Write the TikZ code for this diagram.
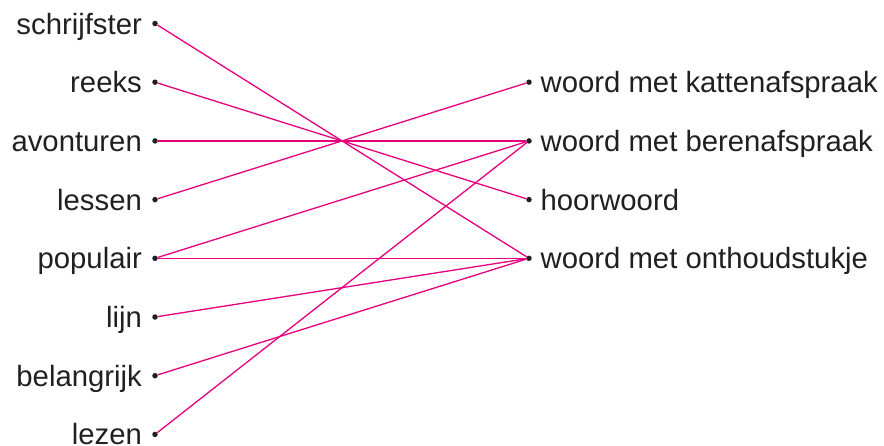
\documentclass[tikz,border=0pt]{standalone}
\usepackage{fontspec}
\setmainfont{Liberation Sans}
\usetikzlibrary{positioning}
\definecolor{linkMagenta}{HTML}{E6007E}
\definecolor{wordInk}{HTML}{231F20}

\begin{document}
\begin{tikzpicture}[x=1pt, y=-1pt,
  dot/.style={circle, fill=wordInk, inner sep=0pt, minimum size=5.5pt},
  word/.style={text=wordInk, inner sep=0pt, font=\fontsize{29.3}{30}\selectfont},
  link/.style={linkMagenta, line width=1.3pt}
]
  \useasboundingbox (0,0) rectangle (884,445);

  % left column
  \foreach \w [count=\i from 0] in {schrijfster, reeks, avonturen, lessen,
      populair, lijn, belangrijk, lezen} {
    \node[dot] (\w) at (155, 23.5+58.7*\i) {};
    \node[word, left=10pt of \w, anchor=base east, yshift=-10.5pt] (\w-txt) {\w};
  }

  % right column
  \foreach \n/\t [count=\i from 1] in {kat/woord met kattenafspraak,
      beer/woord met berenafspraak, hoor/hoorwoord,
      onthoud/woord met onthoudstukje} {
    \node[dot] (\n) at (529, 23.5+58.7*\i) {};
    \node[word, right=8.5pt of \n, anchor=base west, yshift=-10.5pt] (\n-txt) {\t};
  }

  \draw[link] (schrijfster) -- (onthoud);
  \draw[link] (reeks) -- (hoor);
  \draw[link] (avonturen) -- (beer);
  \draw[link] (lessen) -- (kat);
  \draw[link] (populair) -- (beer);
  \draw[link] (populair) -- (onthoud);
  \draw[link] (lijn) -- (onthoud);
  \draw[link] (belangrijk) -- (onthoud);
  \draw[link] (lezen) -- (beer);
\end{tikzpicture}
\end{document}
